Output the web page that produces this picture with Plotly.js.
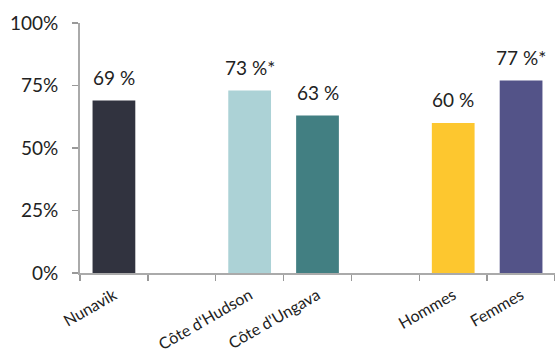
<!DOCTYPE html>
<html>
<head>
<meta charset="utf-8">
<script src="https://cdn.plot.ly/plotly-3.0.1.min.js"></script>
<style>html,body{margin:0;padding:0;background:#fff}#chart{width:555px;height:352px}</style>
</head>
<body>
<div id="chart"></div>
<script>
const categories = ["Nunavik", " ", "Côte d'Hudson", "Côte d'Ungava", "  ", "Hommes", "Femmes"];
const barCategories = ["Nunavik", "Côte d'Hudson", "Côte d'Ungava", "Hommes", "Femmes"];
const values = [69, 73, 63, 60, 77];
const valueLabels = ["69 %", "73 %*", "63 %", "60 %", "77 %*"];
const barColors = ["#31333f", "#acd2d6", "#427f82", "#fdc72f", "#535388"];
const yTickVals = [0, 25, 50, 75, 100];
const yTickText = ["0%", "25%", "50%", "75%", "100%"];

const font = "Lato, 'Open Sans', sans-serif";

const trace = {
  type: "bar",
  x: barCategories,
  y: values,
  marker: {color: barColors},
  hoverinfo: "skip"
};

const annotations = barCategories.map((c, i) => ({
  x: c, y: values[i], xref: "x", yref: "y",
  text: valueLabels[i], showarrow: false,
  yanchor: "bottom", yshift: 10,
  font: {family: font, size: 19, color: "#222"}
}));

const layout = {
  width: 555, height: 352,
  margin: {l: 80, r: 0, t: 23, b: 79},
  paper_bgcolor: "#fff", plot_bgcolor: "#fff",
  bargap: 0.37,
  showlegend: false,
  xaxis: {
    type: "category",
    categoryorder: "array",
    categoryarray: categories,
    range: [-0.5, 6.5],
    tickson: "boundaries",
    ticks: "outside", ticklen: 6, tickcolor: "#999", tickwidth: 1.5,
    showline: true, linecolor: "#aaa", linewidth: 2,
    showgrid: false, zeroline: false,
    tickangle: -30,
    ticklabelstandoff: 5,
    tickfont: {family: font, size: 16, color: "#222"}
  },
  yaxis: {
    range: [0, 100],
    tickvals: yTickVals, ticktext: yTickText,
    ticks: "outside", ticklen: 6, tickcolor: "#999", tickwidth: 1.5,
    showline: true, linecolor: "#aaa", linewidth: 2,
    showgrid: false, zeroline: false,
    ticklabelstandoff: 10,
    tickfont: {family: font, size: 19, color: "#222"}
  },
  annotations: annotations
};

Plotly.newPlot("chart", [trace], layout, {staticPlot: true, displayModeBar: false});
</script>
</body>
</html>
